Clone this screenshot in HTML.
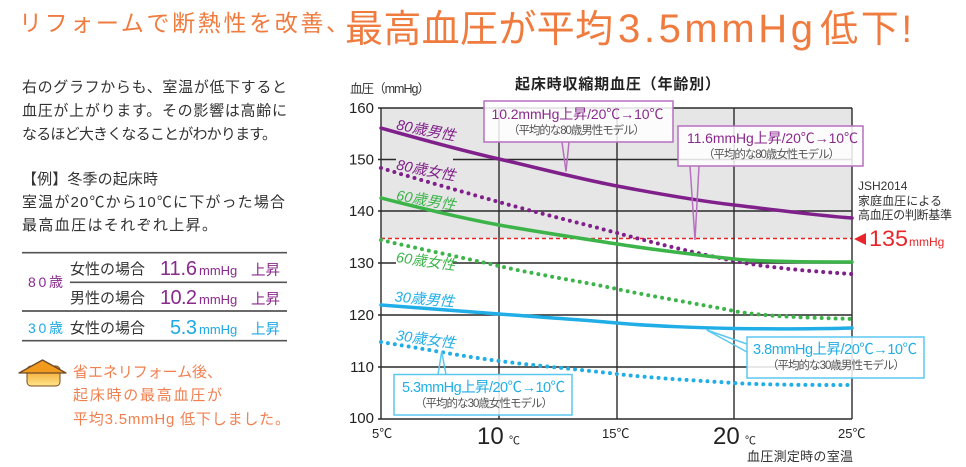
<!DOCTYPE html>
<html><head><meta charset="utf-8"><style>
html,body{margin:0;padding:0;background:#fff;}
body{width:966px;height:467px;overflow:hidden;}
svg{display:block;}
text{font-family:"Liberation Sans","Noto Sans CJK JP",sans-serif;}
</style></head><body>
<svg width="966" height="467" viewBox="0 0 966 467" xmlns="http://www.w3.org/2000/svg">
<defs>
<linearGradient id="hg" x1="0" y1="0" x2="0" y2="1">
<stop offset="0" stop-color="#f39a1c"/><stop offset="1" stop-color="#fde58a"/>
</linearGradient>
</defs>
<!-- Title -->
<text x="19" y="31" font-size="23" fill="#ef7b3f" textLength="330" lengthAdjust="spacing">リフォームで断熱性を改善、</text>
<text x="345" y="42" font-size="38" fill="#ef7b3f" textLength="268" lengthAdjust="spacing">最高血圧が平均</text>
<text x="618" y="42" font-size="40" fill="#ef7b3f" textLength="195" lengthAdjust="spacing">3.5mmHg</text>
<text x="820" y="42" font-size="38" fill="#ef7b3f" textLength="92" lengthAdjust="spacing">低下!</text>

<!-- Left paragraph -->
<g font-size="15" fill="#333">
<text x="22" y="92" textLength="265" lengthAdjust="spacing">右のグラフからも、室温が低下すると</text>
<text x="22" y="115.5" textLength="265" lengthAdjust="spacing">血圧が上がります。その影響は高齢に</text>
<text x="22" y="139" textLength="255" lengthAdjust="spacing">なるほど大きくなることがわかります。</text>
<text x="22" y="184" textLength="136" lengthAdjust="spacing">【例】冬季の起床時</text>
<text x="22" y="207" textLength="263" lengthAdjust="spacing">室温が20℃から10℃に下がった場合</text>
<text x="22" y="230" textLength="195" lengthAdjust="spacing">最高血圧はそれぞれ上昇。</text>
</g>
<!-- Table -->
<g stroke="#555" stroke-width="1.7">
<line x1="22" y1="252.7" x2="287" y2="252.7"/>
<line x1="70" y1="282.3" x2="287" y2="282.3"/>
<line x1="22" y1="311" x2="287" y2="311"/>
<line x1="22" y1="340.7" x2="287" y2="340.7"/>
</g>
<text x="28" y="287" font-size="14" fill="#8a2a8e" textLength="35" lengthAdjust="spacing">80歳</text>
<text x="28" y="333" font-size="14" fill="#1fa9e4" textLength="35" lengthAdjust="spacing">30歳</text>
<g font-size="15" fill="#333">
<text x="70" y="274" textLength="75" lengthAdjust="spacing">女性の場合</text>
<text x="70" y="303" textLength="75" lengthAdjust="spacing">男性の場合</text>
<text x="70" y="333" textLength="75" lengthAdjust="spacing">女性の場合</text>
</g>
<g fill="#8a2a8e">
<text x="160" y="275" font-size="20" textLength="37" lengthAdjust="spacing">11.6</text>
<text x="199" y="275" font-size="13">mmHg</text>
<text x="251" y="275" font-size="14.5">上昇</text>
<text x="160" y="304" font-size="20" textLength="37" lengthAdjust="spacing">10.2</text>
<text x="199" y="304" font-size="13">mmHg</text>
<text x="251" y="304" font-size="14.5">上昇</text>
</g>
<g fill="#1fa9e4">
<text x="170" y="334" font-size="20" textLength="27" lengthAdjust="spacing">5.3</text>
<text x="199" y="334" font-size="13">mmHg</text>
<text x="251" y="334" font-size="14.5">上昇</text>
</g>
<!-- House icon -->
<rect x="27" y="366" width="33" height="20" rx="4" fill="url(#hg)" stroke="#7a4a1a" stroke-width="1"/>
<polygon points="19,373 42.5,360 66,373" fill="#f29a1e" stroke="#6b4a2a" stroke-width="1.3" stroke-linejoin="round"/>
<g font-size="15" fill="#f08050">
<text x="73" y="377" textLength="149" lengthAdjust="spacing">省エネリフォーム後、</text>
<text x="73" y="400" textLength="149" lengthAdjust="spacing">起床時の最高血圧が</text>
<text x="73" y="424" textLength="217" lengthAdjust="spacing">平均3.5mmHg 低下しました。</text>
</g>

<!-- Chart -->
<text x="350" y="93" font-size="12.5" fill="#333" textLength="80" lengthAdjust="spacing">血圧（mmHg）</text>
<text x="515" y="89" font-size="15" font-weight="bold" fill="#222" textLength="205" lengthAdjust="spacing">起床時収縮期血圧（年齢別）</text>

<rect x="381" y="108" width="471" height="130" fill="#e6e6e6"/>
<line x1="381" y1="238.5" x2="852" y2="238.5" stroke="#e8262a" stroke-width="1.6" stroke-dasharray="4 3"/>
<g stroke="#2a2a2a" stroke-width="1.4" fill="none">
<line x1="378" y1="108" x2="852" y2="108"/>
<line x1="378" y1="159.5" x2="852" y2="159.5"/>
<line x1="378" y1="211" x2="852" y2="211"/>
<line x1="378" y1="263" x2="852" y2="263"/>
<line x1="378" y1="315" x2="852" y2="315"/>
<line x1="378" y1="367" x2="852" y2="367"/>
<line x1="378" y1="419" x2="852" y2="419"/>
<line x1="381" y1="108" x2="381" y2="419"/>
<line x1="499" y1="108" x2="499" y2="419"/>
<line x1="617" y1="108" x2="617" y2="419"/>
<line x1="734" y1="108" x2="734" y2="419"/>
<line x1="852" y1="108" x2="852" y2="419"/>
</g>
<!-- label backgrounds breaking grid -->
<rect x="396" y="154" width="57" height="12" fill="#e6e6e6"/>
<rect x="396" y="255" width="57" height="14" fill="#fff"/>

<!-- curves -->
<g fill="none" stroke-linecap="round">
<path d="M381,128 C420,139 460,150 499,159 S580,179 617,186 S700,201 734,205 S820,216 852,218" stroke="#80208a" stroke-width="3.5"/>
<path d="M381,168 C420,180 460,191 499,202 S580,223 617,233 S700,254 734,261 S820,272 852,274" stroke="#80208a" stroke-width="4" stroke-dasharray="0 7"/>
<path d="M381,198 C420,208 460,218 499,225 S585,239 617,244 S705,256 734,259 S820,262 852,262" stroke="#3cb44a" stroke-width="3.5"/>
<path d="M381,240 C420,249 460,257 499,266 S585,282 617,289 S705,305 734,311 S825,318 852,319" stroke="#3cb44a" stroke-width="4" stroke-dasharray="0 7"/>
<path d="M381,305 C420,308 460,311 499,314 S585,320 617,323 S705,328 734,328.5 S820,329 852,328" stroke="#21aee6" stroke-width="3.5"/>
<path d="M381,342 C420,348 460,356 499,361 S585,370 617,374 S705,381 734,383 S820,385 852,385" stroke="#21aee6" stroke-width="4" stroke-dasharray="0 7"/>
</g>

<!-- curve labels -->
<g font-size="14.5" font-style="italic" text-anchor="middle">
<text transform="translate(425,135) rotate(11)" fill="#80208a">80歳男性</text>
<text transform="translate(425,175) rotate(11)" fill="#80208a">80歳女性</text>
<text transform="translate(425,205) rotate(10)" fill="#3cb44a">60歳男性</text>
<text transform="translate(425,266) rotate(8)" fill="#3cb44a">60歳女性</text>
<text transform="translate(424,304) rotate(5)" fill="#21aee6">30歳男性</text>
<text transform="translate(425,344) rotate(8)" fill="#21aee6">30歳女性</text>
</g>

<!-- callout boxes -->
<g stroke-width="1.5">
<rect x="484" y="101" width="189" height="41" fill="#fff" fill-opacity="0.85" stroke="#b76fc0"/>
<polyline points="562,142 566,171.5 569,142" fill="none" stroke="#b76fc0"/>
<rect x="678" y="126" width="185" height="40" fill="#fff" fill-opacity="0.85" stroke="#b76fc0"/>
<polyline points="690,166 695,240 699,166" fill="none" stroke="#b76fc0"/>
<rect x="394" y="374.5" width="178" height="40.5" fill="#fff" fill-opacity="0.85" stroke="#5cc8f0"/>
<polyline points="438,374.5 441.7,351.7 446,374.5" fill="none" stroke="#5cc8f0"/>
<rect x="747" y="337" width="177" height="41" fill="#fff" fill-opacity="0.85" stroke="#5cc8f0"/>
<polyline points="747,344 706.7,330 747,352" fill="none" stroke="#5cc8f0"/>
</g>
<text x="491.5" y="119" font-size="14" fill="#8a2a8e" textLength="172" lengthAdjust="spacing">10.2mmHg上昇/20℃→10℃</text>
<text x="508" y="134" font-size="11.5" fill="#555" textLength="137" lengthAdjust="spacing">（平均的な80歳男性モデル）</text>
<text x="687" y="143" font-size="14" fill="#8a2a8e" textLength="171" lengthAdjust="spacing">11.6mmHg上昇/20℃→10℃</text>
<text x="703" y="158" font-size="11.5" fill="#555" textLength="137" lengthAdjust="spacing">（平均的な80歳女性モデル）</text>
<text x="402" y="392" font-size="14.5" fill="#21aee6" textLength="163" lengthAdjust="spacing">5.3mmHg上昇/20℃→10℃</text>
<text x="415" y="407" font-size="11.5" fill="#555" textLength="138" lengthAdjust="spacing">（平均的な30歳女性モデル）</text>
<text x="753" y="354" font-size="14.5" fill="#21aee6" textLength="164" lengthAdjust="spacing">3.8mmHg上昇/20℃→10℃</text>
<text x="767" y="369" font-size="11.5" fill="#555" textLength="138" lengthAdjust="spacing">（平均的な30歳男性モデル）</text>

<!-- right annotation -->
<g font-size="12" fill="#333">
<text x="858" y="190">JSH2014</text>
<text x="858" y="205" textLength="84" lengthAdjust="spacing">家庭血圧による</text>
<text x="858" y="219" textLength="94" lengthAdjust="spacing">高血圧の判断基準</text>
</g>
<polygon points="854,239 866,233 866,245" fill="#e8262a"/>
<text x="869" y="246" font-size="22.5" fill="#e8262a" textLength="39" lengthAdjust="spacingAndGlyphs">135</text>
<text x="909" y="246" font-size="12" fill="#e8262a">mmHg</text>

<!-- y ticks -->
<g font-size="15" fill="#222" text-anchor="end">
<text x="374" y="113">160</text>
<text x="374" y="164.5">150</text>
<text x="374" y="216">140</text>
<text x="374" y="268">130</text>
<text x="374" y="320">120</text>
<text x="374" y="372">110</text>
<text x="374" y="423">100</text>
</g>
<!-- x ticks -->
<g fill="#222">
<text x="372" y="438" font-size="13">5℃</text>
<text x="477" y="444" font-size="24">10</text>
<text x="509" y="444" font-size="11">℃</text>
<text x="602" y="438" font-size="13">15℃</text>
<text x="713" y="444" font-size="24">20</text>
<text x="745" y="444" font-size="11">℃</text>
<text x="838" y="438" font-size="13">25℃</text>
<text x="747" y="461" font-size="13" fill="#333" textLength="106" lengthAdjust="spacing">血圧測定時の室温</text>
</g>
</svg>
</body></html>
